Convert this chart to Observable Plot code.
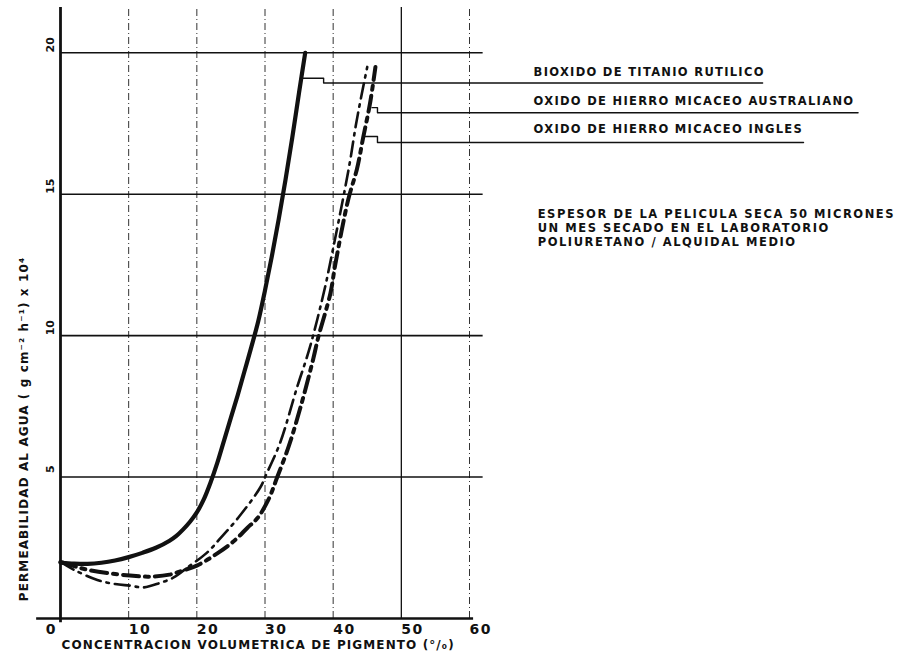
<!DOCTYPE html>
<html><head><meta charset="utf-8">
<script src="https://cdn.jsdelivr.net/npm/d3@7"></script>
<script src="https://cdn.jsdelivr.net/npm/@observablehq/plot@0.6"></script>
<style>
html,body{margin:0;padding:0;background:#fff;}
#chart svg{display:block;}
</style></head><body><div id="chart"></div>
<script>
// ---- data ----
const seriesNames = ["BIOXIDO DE TITANIO RUTILICO", "OXIDO DE HIERRO MICACEO AUSTRALIANO", "OXIDO DE HIERRO MICACEO INGLES"];

const titanioX = [0, 2, 4, 6, 8, 10, 12, 14, 16, 17, 18, 19, 20, 21, 22, 23, 24, 25, 26, 27, 28, 29, 30, 31, 32, 33, 34, 35, 35.9];
const titanioY = [1.98, 1.94, 1.93, 1.97, 2.05, 2.17, 2.32, 2.5, 2.75, 2.92, 3.15, 3.42, 3.75, 4.2, 4.8, 5.5, 6.3, 7.1, 7.9, 8.75, 9.6, 10.5, 11.6, 12.8, 14.1, 15.5, 17.0, 18.6, 20];

const australianoX = [0, 2, 4, 7, 10.2, 13, 16, 18, 20, 23, 25.5, 27.4, 28.9, 30.5, 31.8, 33.5, 35.2, 37.1, 37.8, 39.6, 40.3, 42.2, 43.5, 44.4, 45.4, 46.2];
const australianoY = [2.0, 1.85, 1.72, 1.6, 1.52, 1.48, 1.55, 1.7, 1.87, 2.3, 2.75, 3.2, 3.55, 4.2, 5.0, 6.1, 7.46, 9.2, 9.93, 11.5, 12.5, 14.8, 15.9, 17.0, 18.2, 19.5];

const inglesX = [0, 2, 5.4, 8, 10.2, 12.2, 14.5, 16.6, 18.6, 21.5, 23.5, 26.1, 29.3, 30.2, 32.2, 34.7, 36.6, 38.8, 39.5, 41.5, 42.5, 43.3, 44, 45];
const inglesY = [2.0, 1.72, 1.36, 1.22, 1.16, 1.1, 1.25, 1.45, 1.8, 2.33, 2.85, 3.57, 4.63, 5.1, 6.2, 8.17, 9.6, 11.7, 12.5, 14.9, 16.2, 17.4, 18.3, 19.5];

const xTicks = [0, 10, 20, 30, 40, 50, 60];
const yTicks = [5, 10, 15, 20];
const yTickLabels = ["5", "10", "15", "20"];

// leader lines from each curve to its label (data units)
const leader1X = [35.2, 38.6, 38.6, 103];
const leader1Y = [19.1, 19.1, 18.93, 18.93];
const leader2X = [45.7, 46.5, 46.5, 117];
const leader2Y = [18.06, 18.06, 17.88, 17.88];
const leader3X = [44.4, 46.5, 46.5, 109];
const leader3Y = [17.04, 17.04, 16.83, 16.83];

const labelX = [69.4, 69.4, 69.4];
const labelY = [19.30, 18.27, 17.29];

const noteLines = ["ESPESOR DE LA PELICULA SECA 50 MICRONES", "UN MES SECADO EN EL LABORATORIO", "POLIURETANO / ALQUIDAL MEDIO"];
const noteX = [70, 70, 70];
const noteY = [14.28, 13.79, 13.29];

const xTitle = "CONCENTRACION VOLUMETRICA DE PIGMENTO (°/₀)";
const yTitle = "PERMEABILIDAD AL AGUA ( g cm⁻² h⁻¹) x 10⁴";

// ---- build tables ----
const zip = (xs, ys) => xs.map((x, i) => ({x, y: ys[i]}));
const titanio = zip(titanioX, titanioY);
const australiano = zip(australianoX, australianoY);
const ingles = zip(inglesX, inglesY);
const leaders = [zip(leader1X, leader1Y), zip(leader2X, leader2Y), zip(leader3X, leader3Y)];
const labels = seriesNames.map((t, i) => ({t, x: labelX[i], y: labelY[i]}));
const notes = noteLines.map((t, i) => ({t, x: noteX[i], y: noteY[i]}));

const font = "'DejaVu Sans', sans-serif";
const ink = "#111";

const chart = Plot.plot({
  width: 913,
  height: 659,
  marginLeft: 60,
  marginRight: 444,
  marginTop: 7,
  marginBottom: 41,
  x: {domain: [0, 60], axis: null},
  y: {domain: [0, 21.6], axis: null},
  style: {background: "#fff", fontFamily: font},
  marks: [
    // grid
    Plot.ruleX(xTicks.filter(d => d > 0 && d !== 50), {y1: 0, y2: 21.6, stroke: "#333", strokeWidth: 1, strokeDasharray: "7,3,1,3"}),
    Plot.ruleX([50], {y1: 0, y2: 21.6, stroke: ink, strokeWidth: 1.3}),
    Plot.ruleY(yTicks, {x1: 0, x2: 62, stroke: ink, strokeWidth: 1.6}),
    // axes
    Plot.ruleY([0], {x1: -3.5, x2: 60.6, stroke: ink, strokeWidth: 2.6}),
    Plot.ruleX([0], {y1: -0.15, y2: 21.6, stroke: ink, strokeWidth: 2.8}),
    // curves
    Plot.line(titanio, {x: "x", y: "y", curve: "catmull-rom", stroke: ink, strokeWidth: 4.2}),
    Plot.line(australiano, {x: "x", y: "y", curve: "catmull-rom", stroke: ink, strokeWidth: 4, strokeDasharray: "16,6,4,6"}),
    Plot.line(ingles, {x: "x", y: "y", curve: "catmull-rom", stroke: ink, strokeWidth: 2.6, strokeDasharray: "15,6,2.5,6"}),
    // leaders
    ...leaders.map(l => Plot.line(l, {x: "x", y: "y", stroke: ink, strokeWidth: 1.4})),
    // labels
    Plot.text(labels, {x: "x", y: "y", text: "t", textAnchor: "start", fontSize: 11.5, fontWeight: "bold", fill: ink, ariaDescription: "labels"}),
    Plot.text(notes, {x: "x", y: "y", text: "t", textAnchor: "start", fontSize: 11.5, fontWeight: "bold", fill: ink, ariaDescription: "notes"}),
    // tick labels
    Plot.text(xTicks.filter(d => d > 0), {x: d => d, y: 0, text: d => String(d), textAnchor: "start", dy: 11, fontSize: 14, fontWeight: "bold", fill: ink, ariaDescription: "xticks"}),
    Plot.text([0], {x: d => d, y: 0, text: d => String(d), textAnchor: "end", dx: -5, dy: 11, fontSize: 14, fontWeight: "bold", fill: ink}),
    Plot.text(yTicks, {x: 0, y: d => d, text: (d, i) => yTickLabels[i], rotate: -90, dx: -10, dy: -8, fontSize: 11, fontWeight: "bold", fill: ink}),
    // titles
    Plot.text([xTitle], {x: 29, y: 0, text: d => d, dy: 27, fontSize: 12, fontWeight: "bold", fill: ink, ariaDescription: "xtitle"}),
    Plot.text([yTitle], {x: 0, y: 6.7, text: d => d, rotate: -90, dx: -36, fontSize: 12, fontWeight: "bold", fill: ink, ariaDescription: "ytitle"})
  ]
});
const spacing = {labels: 1.3, notes: 1.55, xticks: 1.5, xtitle: 1.1, ytitle: 1.1};
for (const [k, v] of Object.entries(spacing)) {
  d3.select(chart).selectAll(`g[aria-description="${k}"] text`).style("letter-spacing", v + "px");
}
document.getElementById("chart").append(chart);
</script>
</body></html>
